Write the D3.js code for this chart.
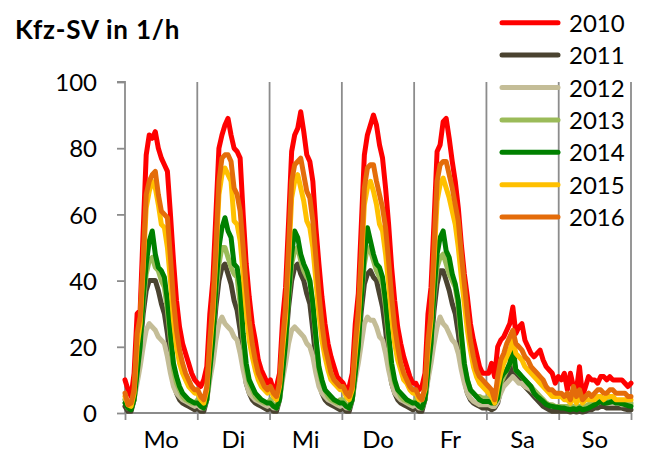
<!DOCTYPE html>
<html><head><meta charset="utf-8">
<script src="https://cdn.jsdelivr.net/npm/d3@7"></script>
<style>body{margin:0;background:#fff}svg{display:block}text{font-family:Lato,"Open Sans",sans-serif;fill:#000}</style>
</head><body><svg id="c" width="646" height="457"></svg>
<script>
const days = ["Mo","Di","Mi","Do","Fr","Sa","So"];
const yTicks = [0,20,40,60,80,100];
const years = ["2010","2011","2012","2013","2014","2015","2016"];
const colors = ["#FF0000","#4A4330","#C4BD97","#9BBB59","#008000","#FFC000","#E46C0A"];

const y2010 = [
10,7,5,12,30,31,55,78,84,83,85,80,77,75,73,60,46,34,26,21,18,15,12,10,
9,8,10,14,30,40,60,80,84,87,89,84,80,79,77,60,45,35,27,22,16,13,11,9,
10,7,8,12,28,38,58,79,84,86,91,85,78,76,70,56,45,35,27,21,17,14,11,10,
9,7,8,12,27,36,57,78,84,87,90,87,81,77,68,57,44,34,26,21,17,14,11,9,
9,7,8,12,30,38,58,79,81,88,89,83,76,70,62,51,42,35,27,22,18,14,12,12,
12,15,11,20,22,23,25,27,32,24,26,27,22,20,18,17,18,19,16,14,13,12,9,11,
10,12,7,12,8,7,14,5,8,11,10,10,9,11,11,10,11,10,10,10,10,9,8,9];
const y2011 = [
2,0.5,0.5,4,12,20,30,37,40,40,40,37,33,30,24,16,9,6,4,3,2.5,2,1.5,1,
1.5,0.5,0.5,4,12,21,32,40,44,45,42,39,34,31,25,16,9,6,4,3,2.5,2,1.5,1,
1.5,0.5,0.5,4,12,21,32,40,44,45,42,40,36,33,25,16,9,6,4,3,2.5,2,1.5,1,
1.5,0.5,0.5,4,11,20,31,39,42,43,41,40,36,32,25,16,9,6,4,3,2.5,2,1.5,1,
1.5,0.5,0.5,4,11,20,31,39,43,43,40,37,33,30,24,16,10,6,4,3,2.5,2,1.5,1.5,
1.5,1,1.5,3,7,9,11,12,14,11,10,9,8,7,6,5,4,3,2,1.5,1,0.5,0.5,0.5,
0.5,0.5,0.5,0.3,0.5,0.3,0.5,0.3,0.5,1,1,1.5,1.5,2,2,1.5,1.5,1.5,1.5,1.5,1.5,1.2,1,1];
const y2012 = [
4,1.5,1.5,4,9,14,20,25,27,26,25,23,22,21,17,12,8,6,5,4,3.5,3,2.5,2,
2.5,1.5,1.5,4,10,15,22,27,29,27,26,25,23,22,18,13,9,6,5,4,3.5,3,2.5,2,
2.5,1.5,1.5,4,10,15,21,25,26,25,24,23,21,20,17,12,8,6,5,4,3.5,3,2.5,2,
2.5,1.5,1.5,4,10,15,21,27,29,28,28,26,23,22,18,13,9,6,5,4,3.5,3,2.5,2,
2.5,1.5,1.5,4,10,15,21,26,29,27,26,24,22,21,18,13,9,6,4.5,3.5,3,2.5,2.5,2.5,
2.5,2,2,3.5,6,8,9,10,11,10,9,9,8,7.5,7,6,5,4.5,4,3,2.5,2,2,2,
2,2,2,1.5,2,1.5,2,1.5,2,2.5,3,3,3,3.5,3.5,3,3,3,3,3,2.5,2.5,2.5,2.5];
const y2013 = [
4,2,2,5,14,22,33,42,46,47,44,43,40,38,31,22,13,9,7,5,4,3.5,3,3,
4,2.5,2,5,14,23,36,45,50,50,47,44,42,41,33,22,13,9,7,5,4,3.5,3,3,
4,2.5,2,5,14,22,35,45,49,50,46,43,41,40,33,22,13,9,7,5,4,3.5,3,4,
4,2.5,2,5,13,22,35,45,50,49,46,43,41,39,32,22,13,9,7,5,4,3.5,3,3,
4,2.5,2,5,13,22,35,44,47,48,45,42,40,38,32,22,14,10,7,6,5,5,4.5,4.5,
4.5,4,3,5,9,11,13,15,17,13,12,11,10,9,8,7,6,5,4,3,2.5,2.5,2,2,
2,2,2,1.5,2,1.5,2,1.5,2,2.5,3,3.5,3.5,4,4,3.5,3.5,3.8,3.5,3.5,3,3,3,3];
const y2014 = [
3,1.5,1,4,12,20,35,45,52,55,48,44,43,41,34,24,15,11,8,6,5,4,3.5,3,
3,2,1.5,4,13,22,38,50,56,59,55,53,45,44,38,24,15,10,8,6,5,4,3.5,3,
3,2,1.5,4,12,21,36,48,55,53,48,45,43,40,33,23,14,10,7,6,5,4,3.5,3,
3,2,1.5,4,12,20,35,48,56,52,48,45,44,41,34,24,15,10,7,6,5,4,3.5,3,
3,2,1.5,4,13,21,37,48,53,55,49,47,42,39,34,24,15,10,7,6,5,4,3.5,3.5,
3.5,3,3,4.5,10.5,12,13,15,20.5,13,12,11,10,9,8,6,5,4.3,3.5,2.6,2.2,2,1.8,1.7,
1.5,1.5,1.2,1,1.3,1,1.5,1,1.2,1.5,2,2.5,3,3.5,3,3,3.2,3.5,3,3,2.8,2.5,2.2,2];
const y2015 = [
5,2.5,2,6,20,27,44,62,67,70,68,63,57,56,50,40,28,20,15,12,10,8,7,6,
6,4,3,7,19,30,47,66,72,74,72,70,58,57,52,42,31,22,17,13,10,8,7,6,
7,5,4,8,19,29,46,65,70,72,68,64,58,56,50,40,30,22,17,13,10,9,8,7,
7,5,4,7,18,28,45,63,68,70,67,63,57,55,48,39,29,21,16,13,10,9,7,6,
6,4,4,7,19,28,46,64,69,71,68,65,61,57,50,41,33,25,19,14,11,9,8,7,
6,5,3,8,12,15,17,19,22,18,17,16,14,13,12,11,10,9,8,7,6,5,5,5,
5,4,4,3,5,3,5,3,4,4,4,4,5,5,4,5,5,5,4,4,4,4,4,4];
const y2016 = [
6,2.5,3,7,24,29,46,66,70,72,73,66,61,60,59,47,34,25,19,15,12,10,8,7,
7,5,4,8,22,33,50,70,77,78,78,76,68,66,61,50,38,28,21,16,12,10,8,7,
8,6,5,9,22,32,50,70,75,76,77,72,67,65,58,47,36,27,20,16,12,10,9,8,
8,6,5,8,21,31,48,68,74,75,75,70,66,62,56,46,35,26,20,15,12,10,8,7,
7,5,4,8,22,30,50,70,75,76,76,72,68,63,58,48,39,30,22,17,13,11,10,9,
8,7,4,11,16,18,21,23,25,21,20,19,17,16,14,13,12,11,10,8,7,7,6,6,
6,5,6,4,8,5,7,4,5,6,5,6,7,7,6,6,7,7,6,6,6,6,5,5];
const series = [y2010,y2011,y2012,y2013,y2014,y2015,y2016];

const svg = d3.select("#c");
const L = 125, R = 631, T = 82, B = 413;
const x = d3.scaleLinear().domain([0,167]).range([L,R]);
const xd = d3.scaleLinear().domain([0,7]).range([L,R]);
const y = d3.scaleLinear().domain([0,100]).range([B,T]);
const gridC = "#8c8c8c";

// vertical day gridlines
svg.append("g").selectAll("line").data(d3.range(1,8)).join("line")
  .attr("x1",d=>xd(d)).attr("x2",d=>xd(d)).attr("y1",T).attr("y2",B)
  .attr("stroke",gridC).attr("stroke-width",1.8);

// y axis
const ya = svg.append("g").attr("transform",`translate(${L},0)`)
  .call(d3.axisLeft(y).tickValues(yTicks).tickSize(8).tickPadding(20));
ya.select(".domain").attr("stroke",gridC).attr("stroke-width",1.8).attr("d",`M-8,${T}H0V${B}`);
ya.selectAll(".tick line").attr("stroke",gridC).attr("stroke-width",1.8);
ya.selectAll(".tick text").attr("font-size",24).attr("font-family","Lato").attr("dy","0.36em").attr("x",-28);

// x axis
const xa = svg.append("g").attr("transform",`translate(0,${B})`)
  .call(d3.axisBottom(xd).tickValues(d3.range(0,8)).tickSize(7).tickFormat(""));
xa.select(".domain").attr("stroke",gridC).attr("stroke-width",1.8).attr("d",`M${L},0H${R}`);
xa.selectAll(".tick line").attr("stroke",gridC).attr("stroke-width",1.8);
svg.append("g").selectAll("text").data(days).join("text")
  .attr("x",(d,i)=>xd(i+0.5)).attr("y",448).attr("text-anchor","middle")
  .attr("font-size",24).text(d=>d);

// lines
const line = d3.line().x((d,i)=>x(i)).y(d=>y(d));
svg.append("g").selectAll("path").data(series).join("path")
  .attr("d",line).attr("fill","none").attr("stroke",(d,i)=>colors[i])
  .attr("stroke-width",5).attr("stroke-linejoin","round").attr("stroke-linecap","round");

// title
svg.append("text").attr("x",15).attr("y",39).attr("font-size",26).attr("letter-spacing",0.8)
  .attr("font-weight","bold").text("Kfz-SV in 1/h");

// legend
const lg = svg.append("g").selectAll("g").data(years).join("g")
  .attr("transform",(d,i)=>`translate(0,${22.7+i*32.4})`);
lg.append("line").attr("x1",502).attr("x2",558).attr("stroke",(d,i)=>colors[i])
  .attr("stroke-width",5).attr("stroke-linecap","round");
lg.append("text").attr("x",569).attr("y",9).attr("font-size",24).text(d=>d);
</script></body></html>
